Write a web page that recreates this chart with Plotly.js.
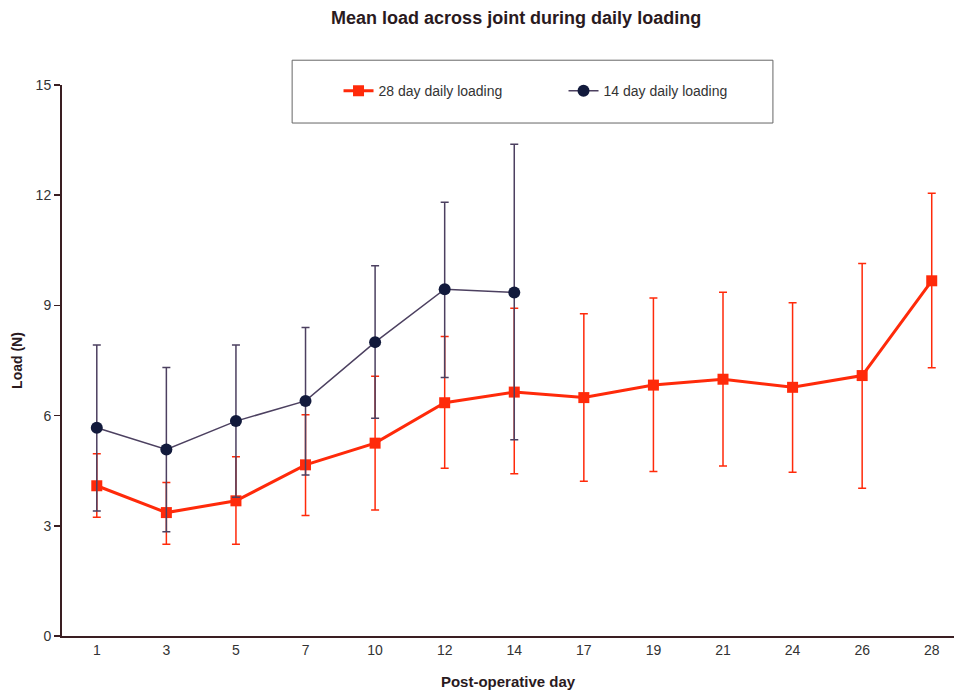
<!DOCTYPE html>
<html>
<head>
<meta charset="utf-8">
<script src="https://cdn.plot.ly/plotly-3.0.1.min.js"></script>
<style>html,body{margin:0;padding:0;background:#fff;}#chart{width:954px;height:694px;}</style>
</head>
<body>
<div id="chart"></div>
<script>
const days = ["1","3","5","7","10","12","14","17","19","21","24","26","28"];

const load28 = [4.09, 3.36, 3.68, 4.66, 5.25, 6.35, 6.64, 6.49, 6.83, 6.99, 6.77, 7.09, 9.67];
const upper28 = [4.96, 4.18, 4.88, 6.02, 7.07, 8.15, 8.92, 8.77, 9.20, 9.36, 9.07, 10.14, 12.05];
const lower28 = [3.23, 2.50, 2.50, 3.28, 3.43, 4.57, 4.42, 4.21, 4.48, 4.63, 4.46, 4.02, 7.30];

const days14 = ["1","3","5","7","10","12","14"];
const load14 = [5.67, 5.08, 5.85, 6.40, 8.00, 9.44, 9.35];
const upper14 = [7.92, 7.31, 7.92, 8.40, 10.08, 11.81, 13.39];
const lower14 = [3.40, 2.84, 3.78, 4.38, 5.93, 7.04, 5.34];

const yTicks = [0, 3, 6, 9, 12, 15];

const diff = (a, b) => a.map((v, i) => +(v - b[i]).toFixed(3));

const red = '#ff2a0a';
const navy = '#121a3c';
const navyLine = '#4c4060';

const trace28 = {
  x: days, y: load28, type: 'scatter', mode: 'lines+markers',
  name: '28 day daily loading',
  line: {color: red, width: 3},
  marker: {color: red, symbol: 'square', size: 11},
  error_y: {type: 'data', symmetric: false, array: diff(upper28, load28), arrayminus: diff(load28, lower28),
            color: red, thickness: 1.5, width: 4}
};
const trace14 = {
  x: days14, y: load14, type: 'scatter', mode: 'lines+markers',
  name: '14 day daily loading',
  line: {color: navyLine, width: 1.5},
  marker: {color: navy, symbol: 'circle', size: 12},
  error_y: {type: 'data', symmetric: false, array: diff(upper14, load14), arrayminus: diff(load14, lower14),
            color: navyLine, thickness: 1.5, width: 4}
};

const font = 'Liberation Sans, Arial, sans-serif';

const layout = {
  width: 954, height: 694,
  margin: {l: 62, r: 0, t: 85, b: 58},
  paper_bgcolor: '#fff', plot_bgcolor: '#fff',
  font: {family: font, size: 14, color: '#333'},
  title: {text: '<b>Mean load across joint during daily loading</b>', x: 0.541, xanchor: 'center', y: 0.974, yanchor: 'middle',
          font: {family: font, size: 18, color: '#2a1a1e'}},
  showlegend: true,
  legend: {orientation: 'h', x: 0.31, xanchor: 'left', y: 0.989, yanchor: 'middle',
           bgcolor: 'rgba(0,0,0,0)', borderwidth: 0, font: {family: font, size: 14, color: '#333'},
           entrywidth: 180, traceorder: 'normal'},
  xaxis: {
    type: 'category', categoryorder: 'array', categoryarray: days,
    range: [-0.5, 12.32], showgrid: false, zeroline: false,
    showline: true, linecolor: '#3a1e22', linewidth: 2,
    ticks: '', tickfont: {family: font, size: 14, color: '#333'},
    title: {text: '<b>Post-operative day</b>', standoff: 20, font: {family: font, size: 15, color: '#2a1a1e'}},
    fixedrange: true
  },
  yaxis: {
    range: [0, 15], tickvals: yTicks, ticktext: yTicks.map(String), showgrid: false, zeroline: false,
    showline: true, linecolor: '#3a1e22', linewidth: 2,
    ticks: 'outside', ticklen: 6, tickcolor: '#3a1e22', tickwidth: 1.5,
    tickfont: {family: font, size: 14, color: '#333'},
    title: {text: '<b>Load (N)</b>', standoff: 10, font: {family: font, size: 14, color: '#2a1a1e'}},
    fixedrange: true
  },
  shapes: [{type: 'rect', xref: 'paper', yref: 'paper', x0: 0.258, x1: 0.797, y0: 0.931, y1: 1.045,
            line: {color: '#666', width: 1}, fillcolor: 'rgba(0,0,0,0)', layer: 'below'}]
};

Plotly.newPlot('chart', [trace28, trace14], layout, {displayModeBar: false, staticPlot: true});
</script>
</body>
</html>
